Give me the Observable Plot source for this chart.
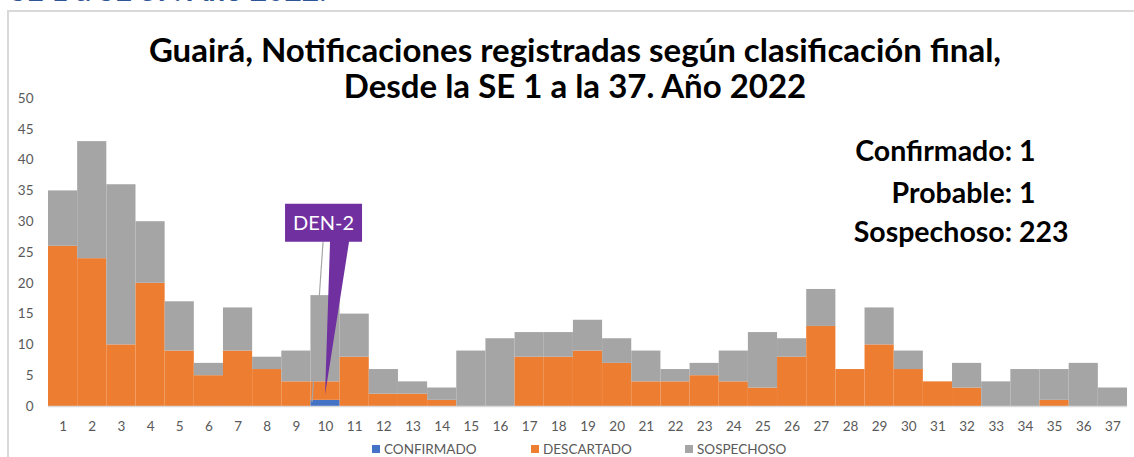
<!DOCTYPE html>
<html>
<head>
<meta charset="utf-8">
<script src="https://cdn.jsdelivr.net/npm/d3@7"></script>
<script src="https://cdn.jsdelivr.net/npm/@observablehq/plot@0.6"></script>
<style>
  html, body { margin: 0; padding: 0; background: #fff; }
  #wrap { position: relative; width: 1134px; height: 457px; overflow: hidden; background: #fff; font-family: Lato, "Open Sans", sans-serif; }
  #wrap svg.plot { position: absolute; left: 0; top: 0; }
  .frame { position: absolute; left: 7px; top: 10px; width: 1200px; height: 600px; border-top: 2px solid #d9d9d9; border-left: 2px solid #d9d9d9; box-sizing: border-box; }
  .cut { position: absolute; left: 10px; top: -29px; font-weight: 700; font-size: 30px; line-height: 36px; color: #2F5597; white-space: nowrap; }
  .title { position: absolute; left: 0; width: 1150px; text-align: center; font-weight: 700; font-size: 33px; line-height: 32px; color: #000; white-space: nowrap; }
  .note { position: absolute; font-weight: 700; font-size: 28.5px; line-height: 32px; color: #000; white-space: nowrap; }
  .note .k { display: inline-block; width: 170px; text-align: right; }
  .legend { position: absolute; top: 441px; font-size: 13.5px; color: #595959; white-space: nowrap; }
  .legend span.sw { display: inline-block; width: 8px; height: 8px; margin-right: 4px; vertical-align: 1px; }
</style>
</head>
<body>
<div id="wrap">
  <div class="cut">SE 1 a SE 37. Año 2022.</div>
  <div class="frame"></div>
</div>
<script>
// ---- data ----
const weeks = [1,2,3,4,5,6,7,8,9,10,11,12,13,14,15,16,17,18,19,20,21,22,23,24,25,26,27,28,29,30,31,32,33,34,35,36,37];
const confirmado = [0,0,0,0,0,0,0,0,0,1,0,0,0,0,0,0,0,0,0,0,0,0,0,0,0,0,0,0,0,0,0,0,0,0,0,0,0];
const descartado = [26,24,10,20,9,5,9,6,4,3,8,2,2,1,0,0,8,8,9,7,4,4,5,4,3,8,13,6,10,6,4,3,0,0,1,0,0];
const sospechoso = [9,19,26,10,8,2,7,2,5,14,7,4,2,2,9,11,4,4,5,4,5,2,2,5,9,3,6,0,6,3,0,4,4,6,5,7,3];
const seriesNames = ["CONFIRMADO", "DESCARTADO", "SOSPECHOSO"];
const seriesColors = ["#4472C4", "#ED7D31", "#A5A5A5"];
const yTicks = [0,5,10,15,20,25,30,35,40,45,50];
const titleLines = ["Guairá, Notificaciones registradas según clasificación final,", "Desde la SE 1 a la 37. Año 2022"];
const summaryLabels = ["Confirmado:", "Probable:", "Sospechoso:"];
const summaryValues = [1, 1, 223];
const calloutLabel = "DEN-2";
const calloutWeek = 10;
const calloutValue = 1;

// ---- build stacked table ----
const seriesValues = [confirmado, descartado, sospechoso];
const rows = [];
weeks.forEach((w, i) => {
  let base = 0;
  seriesValues.forEach((vals, s) => {
    const v = vals[i];
    if (v > 0) rows.push({week: w, series: seriesNames[s], y1: base, y2: base + v});
    base += v;
  });
});

// callout render mark (positions come from the scales)
function calloutMark(index, scales) {
  const cx = scales.x(calloutWeek);
  const tipY = scales.y(calloutValue) - 5;
  const baseY = scales.y(0);
  const boxBottom = tipY - 153;
  const boxTop = boxBottom - 38;
  const boxL = cx - 40, boxR = cx + 37;
  const g = d3.create("svg:g");
  g.append("line")
    .attr("x1", cx - 2).attr("y1", boxBottom)
    .attr("x2", cx - 13).attr("y2", baseY - 4)
    .attr("stroke", "#a6a6a6").attr("stroke-width", 1.2);
  g.append("path")
    .attr("d", `M${boxL},${boxTop}H${boxR}V${boxBottom}H${cx + 24}L${cx},${tipY}L${cx + 5},${boxBottom}H${boxL}Z`)
    .attr("fill", "#7030A0");
  g.append("text")
    .attr("x", (boxL + boxR) / 2).attr("y", (boxTop + boxBottom) / 2)
    .attr("dy", "0.36em")
    .attr("text-anchor", "middle")
    .attr("fill", "#fff")
    .attr("font-size", 20)
    .attr("font-family", "Lato, sans-serif")
    .text(calloutLabel);
  return g.node();
}

const plot = Plot.plot({
  width: 1134,
  height: 457,
  marginLeft: 48,
  marginRight: 7,
  marginTop: 98,
  marginBottom: 51,
  style: {fontFamily: "Lato, sans-serif", fontSize: "13.5px", color: "#595959", background: "transparent"},
  x: {type: "linear", domain: [0.5, 37.5], ticks: weeks, tickFormat: d => String(d), tickSize: 0, tickPadding: 15, label: null},
  y: {domain: [0, 50], ticks: yTicks, tickSize: 0, tickPadding: 15, label: null},
  color: {domain: seriesNames, range: seriesColors},
  marks: [
    Plot.rect(rows, {x1: d => d.week - 0.5, x2: d => d.week + 0.5, y1: "y1", y2: "y2", fill: "series"}),
    Plot.ruleY([0], {stroke: "#d9d9d9", strokeWidth: 1.5}),
    calloutMark
  ]
});
plot.classList.add("plot");
const wrap = document.getElementById("wrap");
wrap.appendChild(plot);

// titles
titleLines.forEach((t, i) => {
  const d = document.createElement("div");
  d.className = "title";
  d.style.top = (i === 0 ? 33 : 69) + "px";
  d.textContent = t;
  wrap.appendChild(d);
});

// summary annotation
const noteTops = [134, 176, 215];
summaryLabels.forEach((lab, i) => {
  const d = document.createElement("div");
  d.className = "note";
  d.style.left = "842px";
  d.style.top = noteTops[i] + "px";
  const k = document.createElement("span");
  k.className = "k";
  k.textContent = lab;
  d.appendChild(k);
  d.appendChild(document.createTextNode(" " + summaryValues[i]));
  wrap.appendChild(d);
});

// legend
const legendLefts = [372, 531, 685];
seriesNames.forEach((name, i) => {
  const d = document.createElement("div");
  d.className = "legend";
  d.style.left = legendLefts[i] + "px";
  const sw = document.createElement("span");
  sw.className = "sw";
  sw.style.background = seriesColors[i];
  d.appendChild(sw);
  d.appendChild(document.createTextNode(name));
  wrap.appendChild(d);
});
</script>
</body>
</html>
